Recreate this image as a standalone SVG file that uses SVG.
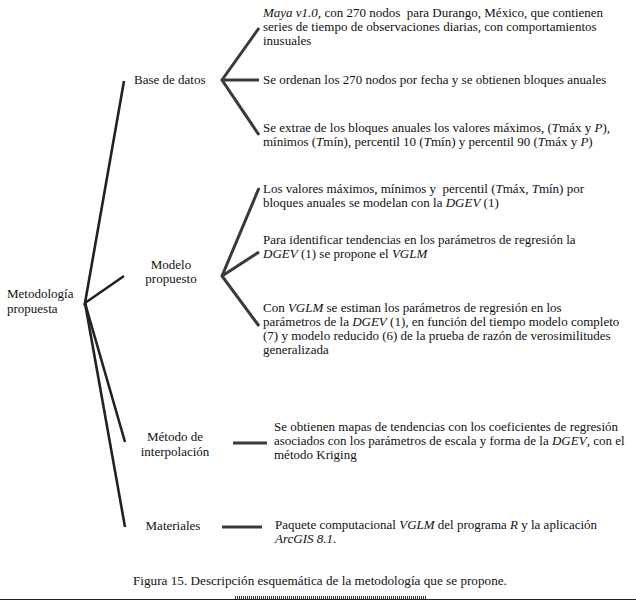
<svg xmlns="http://www.w3.org/2000/svg" width="636" height="602" viewBox="0 0 636 602">
<style>
text{font-family:"Liberation Serif","Times New Roman",serif;font-size:13px;fill:#111}
.i{font-style:italic}
.c{text-anchor:middle}
.p{white-space:pre}
.root{stroke:#222;stroke-width:2.6;fill:none;stroke-linecap:butt}
.br{stroke:#3a3a3a;stroke-width:3;fill:none;stroke-linecap:butt;stroke-linejoin:miter}
.cap{font-size:13.2px}
</style>
<rect width="636" height="602" fill="#fff"/>
<g id="connectors">
<polyline class="root" points="124,81 85,303 124,276"/>
<polyline class="root" points="85,303 125,442"/>
<polyline class="root" points="85,303 125,527"/>
<polyline class="br" points="259,28 222,80 259,135"/>
<line class="br" x1="222" y1="80" x2="259" y2="80"/>
<polyline class="br" points="259,188 222,276 259,326"/>
<line class="br" x1="222" y1="276" x2="259" y2="252"/>
<line class="br" x1="233" y1="443" x2="267" y2="443"/>
<line class="br" x1="222" y1="527" x2="262" y2="527"/>
</g>
<g id="n-root"><text x="7" y="298">Metodología</text><text x="7" y="313">propuesta</text></g>
<g id="n-base"><text x="134" y="84">Base de datos</text></g>
<g id="n-modelo"><text class="c" x="171" y="269">Modelo</text><text class="c" x="171" y="283">propuesto</text></g>
<g id="n-metodo"><text class="c" x="175" y="441">Método de</text><text class="c" x="175" y="456">interpolación</text></g>
<g id="n-materiales"><text class="c" x="173" y="530">Materiales</text></g>
<g id="n-b1"><text class="p" x="263" y="17"><tspan class="i">Maya v1.0,</tspan> con 270 nodos  para Durango, México, que contienen</text><text x="263" y="31">series de tiempo de observaciones diarias, con comportamientos</text><text x="263" y="45">inusuales</text></g>
<g id="n-b2"><text x="263" y="84">Se ordenan los 270 nodos por fecha y se obtienen bloques anuales</text></g>
<g id="n-b3"><text x="263" y="132">Se extrae de los bloques anuales los valores máximos, (<tspan class="i">T</tspan>máx y <tspan class="i">P</tspan>),</text><text x="263" y="146">mínimos (<tspan class="i">T</tspan>mín), percentil 10 (<tspan class="i">T</tspan>mín) y percentil 90 (<tspan class="i">T</tspan>máx y <tspan class="i">P</tspan>)</text></g>
<g id="n-m1"><text class="p" x="263" y="193">Los valores máximos, mínimos y  percentil (<tspan class="i">T</tspan>máx, <tspan class="i">T</tspan>mín) por</text><text x="263" y="207">bloques anuales se modelan con la <tspan class="i">DGEV</tspan> (1)</text></g>
<g id="n-m2"><text x="263" y="244">Para identificar tendencias en los parámetros de regresión la</text><text x="263" y="258"><tspan class="i">DGEV</tspan> (1) se propone el <tspan class="i">VGLM</tspan></text></g>
<g id="n-m3"><text x="263" y="312">Con <tspan class="i">VGLM</tspan> se estiman los parámetros de regresión en los</text><text x="263" y="326">parámetros de la <tspan class="i">DGEV</tspan> (1), en función del tiempo modelo completo</text><text x="263" y="340">(7) y modelo reducido (6) de la prueba de razón de verosimilitudes</text><text x="263" y="354">generalizada</text></g>
<g id="n-i1"><text x="274" y="431">Se obtienen mapas de tendencias con los coeficientes de regresión</text><text x="274" y="445">asociados con los parámetros de escala y forma de la <tspan class="i">DGEV</tspan>, con el</text><text x="274" y="459">método Kriging</text></g>
<g id="n-t1"><text x="275" y="529">Paquete computacional <tspan class="i">VGLM</tspan> del programa <tspan class="i">R</tspan> y la aplicación</text><text x="275" y="543"><tspan class="i">ArcGIS 8.1</tspan>.</text></g>
<text class="cap" x="133" y="585">Figura 15. Descripción esquemática de la metodología que se propone.</text>
<line x1="0" y1="599.5" x2="636" y2="599.5" stroke="#222" stroke-width="1"/>
<line x1="235" y1="597.5" x2="427" y2="597.5" stroke="#333" stroke-width="3" stroke-dasharray="1 1"/>
</svg>
